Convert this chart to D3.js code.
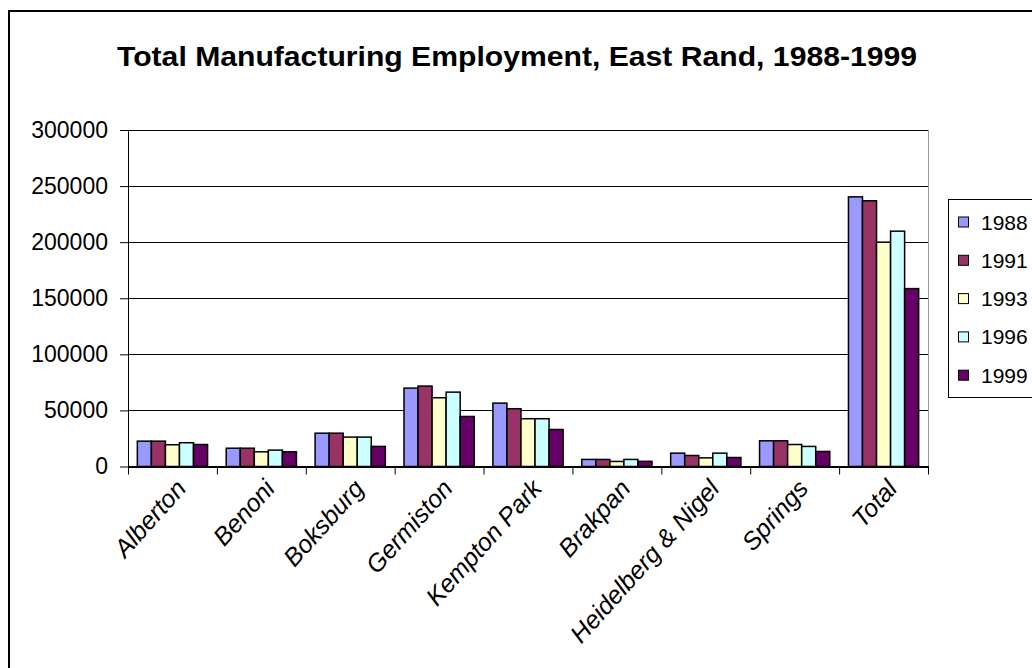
<!DOCTYPE html>
<html>
<head>
<meta charset="utf-8">
<script src="https://cdn.jsdelivr.net/npm/d3@7"></script>
<style>
  body { margin: 0; background: #fff; }
  svg { display: block; font-family: "Liberation Sans", Arial, sans-serif; }
  .axis text { font-size: 23px; fill: #000; }
  .axis path, .axis line { stroke: #000; }
</style>
</head>
<body>
<script>
// data
const categories = ["Alberton", "Benoni", "Boksburg", "Germiston", "Kempton Park",
                    "Brakpan", "Heidelberg & Nigel", "Springs", "Total"];
const years = ["1988", "1991", "1993", "1996", "1999"];
const emp1988 = [22600, 16300, 29700, 69900, 56500, 6300, 11900, 22900, 240400];
const emp1991 = [22600, 16300, 29700, 71700, 51500, 6300, 9800, 22900, 236900];
const emp1993 = [19400, 13100, 26200, 61300, 42600, 4500, 7700, 19600, 200000];
const emp1996 = [21200, 14600, 26200, 66300, 42600, 6300, 11900, 17900, 209800];
const emp1999 = [19600, 13100, 17900, 44600, 33000, 4600, 8000, 13400, 158600];
const yTicks = [0, 50000, 100000, 150000, 200000, 250000, 300000];
const colors = ["#9999ff", "#993366", "#ffffcc", "#ccffff", "#660066"];

const series = [emp1988, emp1991, emp1993, emp1996, emp1999];

const w = 1032, h = 668;
const plotL = 128, plotR = 928, plotT = 130, plotB = 466.5;

const svg = d3.select("body").append("svg")
  .attr("width", w)
  .attr("height", h);

// outer chart border (runs off the page right and bottom)
svg.append("rect")
  .attr("x", 9).attr("y", 11)
  .attr("width", 1100).attr("height", 700)
  .attr("fill", "none")
  .attr("stroke", "#000")
  .attr("stroke-width", 2);

// title
svg.append("text")
  .text("Total Manufacturing Employment, East Rand, 1988-1999")
  .attr("x", 517)
  .attr("y", 66)
  .attr("text-anchor", "middle")
  .attr("font-weight", "bold")
  .attr("font-size", 28)
  .attr("textLength", 800)
  .attr("lengthAdjust", "spacingAndGlyphs");

// scales
const x0 = d3.scaleBand()
  .domain(categories)
  .range([plotL, plotR])
  .paddingInner(0.21)
  .paddingOuter(0.105);

const x1 = d3.scaleBand()
  .domain(years)
  .range([0, x0.bandwidth()]);

const y = d3.scaleLinear()
  .domain([0, 300000])
  .range([plotB, plotT]);

const color = d3.scaleOrdinal().domain(years).range(colors);

// gridlines
svg.append("g")
  .selectAll("line")
  .data(yTicks)
  .enter()
  .append("line")
  .attr("x1", plotL).attr("x2", plotR)
  .attr("y1", d => Math.round(y(d)) + 0.5)
  .attr("y2", d => Math.round(y(d)) + 0.5)
  .attr("stroke", "#000")
  .attr("stroke-width", 1);

// plot area right edge (gray)
svg.append("line")
  .attr("x1", plotR + 0.5).attr("x2", plotR + 0.5)
  .attr("y1", plotT).attr("y2", plotB)
  .attr("stroke", "#999");

// bars
const rows = categories.map((c, i) => ({
  cat: c,
  vals: years.map((yr, j) => ({ year: yr, v: series[j][i] }))
}));

svg.append("g")
  .selectAll("g")
  .data(rows)
  .enter()
  .append("g")
  .attr("transform", d => "translate(" + x0(d.cat) + ",0)")
  .selectAll("rect")
  .data(d => d.vals)
  .enter()
  .append("rect")
  .attr("x", d => x1(d.year))
  .attr("y", d => y(d.v))
  .attr("width", x1.bandwidth())
  .attr("height", d => y(0) - y(d.v))
  .attr("fill", d => color(d.year))
  .attr("stroke", "#000")
  .attr("stroke-width", 1.5);

// y axis
svg.append("g")
  .attr("class", "axis")
  .attr("transform", "translate(" + plotL + ",0)")
  .call(d3.axisLeft(y).tickValues(yTicks).tickSize(8).tickPadding(12).tickFormat(d3.format("d")))
  .call(g => g.select(".domain").attr("d", "M0.5," + plotT + "V" + plotB));

// x axis: Excel style ticks between categories
const step = x0.step();
const xAxis = svg.append("g").attr("class", "axis");
xAxis.append("line")
  .attr("x1", plotL).attr("x2", plotR + 1)
  .attr("y1", plotB).attr("y2", plotB)
  .attr("stroke", "#000");
xAxis.selectAll(".tick-mark")
  .data(d3.range(categories.length + 1))
  .enter()
  .append("line")
  .attr("class", "tick-mark")
  .attr("x1", i => plotL + i * step + 0.5)
  .attr("x2", i => plotL + i * step + 0.5)
  .attr("y1", plotB).attr("y2", plotB + 8)
  .attr("stroke", "#000");

xAxis.selectAll(".cat-label")
  .data(categories)
  .enter()
  .append("text")
  .attr("class", "cat-label")
  .text(d => d)
  .attr("text-anchor", "end")
  .attr("font-style", "italic")
  .style("font-size", "25px")
  .attr("transform", d => "translate(" + (x0(d) + x0.bandwidth() / 2 + 15) + "," + (plotB + 23) + ") rotate(-48)");

// legend
const lg = svg.append("g");
lg.append("rect")
  .attr("x", 948.5).attr("y", 199.5)
  .attr("width", 200).attr("height", 198)
  .attr("fill", "#fff")
  .attr("stroke", "#000");

const item = lg.selectAll(".item")
  .data(years)
  .enter()
  .append("g")
  .attr("transform", (d, i) => "translate(958," + (222 + i * 38.3) + ")");

item.append("rect")
  .attr("x", 0.5).attr("y", -5)
  .attr("width", 10).attr("height", 10)
  .attr("fill", d => color(d))
  .attr("stroke", "#000");

item.append("text")
  .text(d => d)
  .attr("x", 23)
  .attr("y", 0)
  .attr("dy", "0.36em")
  .attr("font-size", 21);
</script>
</body>
</html>
